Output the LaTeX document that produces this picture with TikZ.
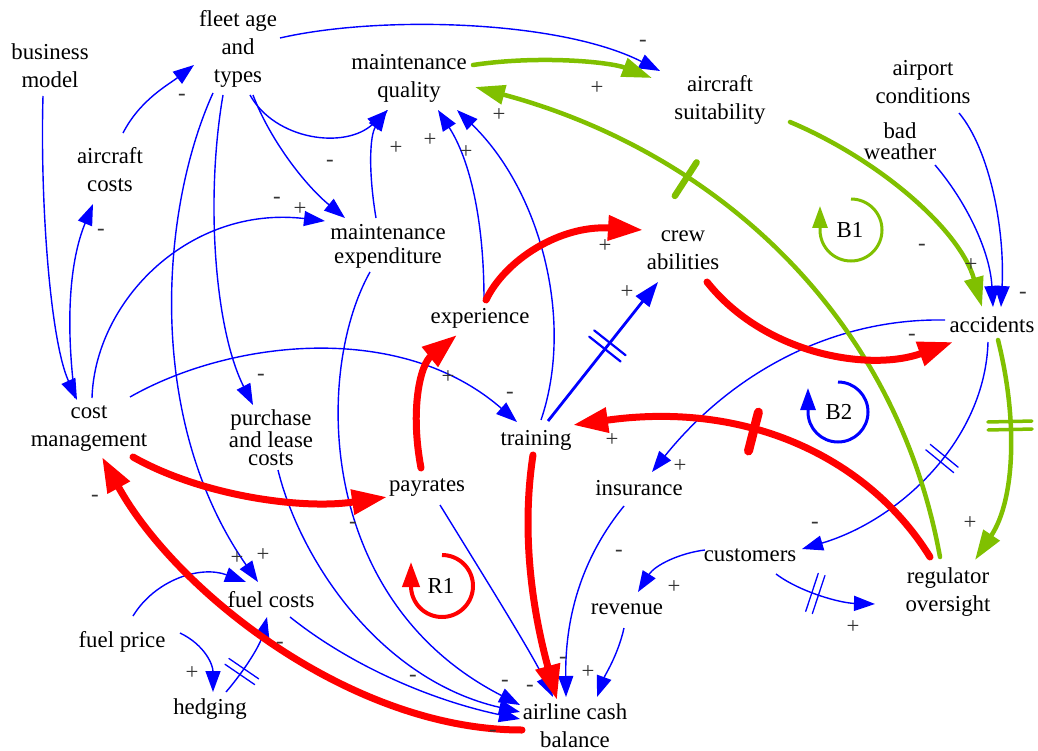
\documentclass[tikz,border=0pt]{standalone}
\usepackage{fontspec}
\setmainfont{Liberation Serif}
\usetikzlibrary{arrows.meta,calc,decorations.markings}

\definecolor{cldblue}{RGB}{0,0,255}
\definecolor{cldred}{RGB}{255,0,0}
\definecolor{cldgreen}{RGB}{128,192,0}

\begin{document}
\begin{tikzpicture}[x=1pt,y=-1pt,
  var/.style={align=center, inner sep=0pt, font=\fontsize{22.8}{28}\selectfont},
  sgn/.style={inner sep=0pt, text=black!80, font=\fontsize{22.8}{28}\selectfont},
  lnk/.style={draw=cldblue, line width=1.4pt, -{Triangle[length=21pt,width=15pt]}},
  strong/.style={draw=cldred, line width=7pt, line cap=round, -{Triangle[length=35pt,width=24pt]}},
  grn/.style={draw=cldgreen, line width=4.5pt, line cap=round, -{Triangle[length=30pt,width=19pt]}},
  delay/.style n args={5}{postaction={decorate, decoration={markings,
      mark=at position #1 with {\draw[-, draw=#2, line width=#3, line cap=round]
        (-#4,-#5) -- (-#4,#5) (#4,-#5) -- (#4,#5);}}}},
  loopB/.style={draw=cldblue, line width=3pt, -{Triangle[length=22pt,width=15pt]}},
  loopG/.style={draw=cldgreen, line width=3pt, -{Triangle[length=22pt,width=15pt]}},
  loopR/.style={draw=cldred, line width=4pt, -{Triangle[length=25pt,width=17pt]}}
]
\useasboundingbox (0,0) rectangle (1038,751);

% variables
\node[var] (bm) at (50,66) {business\\model};
\node[var] (fleet) at (238,49) {fleet age\\and\\types};
\node[var] (mq) at (409,78) {maintenance\\quality};
\node[var] (as) at (720,100) {aircraft\\suitability};
\node[var] (ac) at (923,82) {airport\\conditions};
\node[var, font=\fontsize{22.8}{21}\selectfont] (bw) at (900,141) {bad\\weather};
\node[var] (acost) at (110,170) {aircraft\\costs};
\node[var, font=\fontsize{22.8}{24}\selectfont] (me) at (388,246) {maintenance\\expenditure};
\node[var] (ca) at (683,250) {crew\\abilities};
\node[var] (exper) at (480,318) {experience};
\node[var] (acc) at (992,325) {accidents};
\node[var] (cm) at (89,429) {cost\\management};
\node[var, font=\fontsize{22.8}{18}\selectfont] (plc) at (271,438) {purchase\\and lease\\costs};
\node[var] (tr) at (536,440) {training};
\node[var] (pay) at (427,488) {payrates};
\node[var] (ins) at (639,488) {insurance};
\node[var] (cust) at (750,555) {customers};
\node[var] (ro) at (948,592) {regulator\\oversight};
\node[var] (rev) at (627,609) {revenue};
\node[var] (fc) at (271,600) {fuel costs};
\node[var] (fp) at (122,642) {fuel price};
\node[var] (hed) at (210,709) {hedging};
\node[var] (acb) at (575,726) {airline cash\\balance};

% loop markers
\node[var] (B1) at (850,230) {B1};
\node[var] (B2) at (839,412) {B2};
\node[var] (R1) at (441,586) {R1};
\draw[loopG] ($(B1)+(1,-31)$) arc[start angle=90, end angle=-180, radius=31pt] -- ++(0,-24);
\draw[loopB] ($(B2)+(-1,-30)$) arc[start angle=90, end angle=-180, radius=30pt] -- ++(0,-24);
\draw[loopR] ($(R1)+(1,-31)$) arc[start angle=90, end angle=-180, radius=31pt] -- ++(0,-24);

% thin causal links
\draw[lnk] ($(bm)+(-7,30)$) .. controls (40,200) and (50,340) .. ($(cm)+(-12,-29)$);
\draw[lnk] ($(cm)+(-14,-31)$) .. controls (65,320) and (70,260) .. ($(acost)+(-17,34)$);
\draw[lnk] ($(acost)+(13,-37)$) .. controls (140,100) and (168,85) .. ($(fleet)+(-44,16)$);
\draw[lnk] ($(fleet)+(42,-11)$) .. controls (380,15) and (560,20) .. ($(as)+(-60,-29)$);
\draw[lnk] ($(fleet)+(12,46)$) .. controls (275,140) and (345,150) .. ($(mq)+(-21,32)$);
\draw[lnk] ($(fleet)+(15,46)$) .. controls (270,140) and (305,185) .. ($(me)+(-43,-28)$);
\draw[lnk] ($(fleet)+(-15,46)$) .. controls (205,200) and (215,330) .. ($(plc)+(-18,-33)$);
\draw[lnk] ($(fleet)+(-25,44)$) .. controls (160,210) and (145,420) .. ($(fc)+(-13,-18)$);
\draw[lnk] ($(cm)+(3,-31)$) .. controls (95,300) and (190,205) .. ($(me)+(-63,-25)$);
\draw[lnk] ($(cm)+(41,-32)$) .. controls (230,340) and (400,320) .. ($(tr)+(-19,-18)$);
\draw[lnk] ($(me)+(-12,-28)$) .. controls (368,170) and (370,135) .. ($(mq)+(-22,32)$);
\draw[lnk] ($(exper)+(4,-18)$) .. controls (484,220) and (470,160) .. ($(mq)+(29,32)$);
\draw[lnk] ($(tr)+(5,-20)$) .. controls (575,320) and (540,190) .. ($(mq)+(48,32)$);
\draw[lnk] ($(bw)+(35,24)$) .. controls (965,200) and (990,250) .. ($(acc)+(1,-18)$);
\draw[lnk] ($(ac)+(36,31)$) .. controls (990,150) and (1005,230) .. ($(acc)+(9,-18)$);
\draw[lnk] ($(acc)+(-47,-5)$) .. controls (830,318) and (730,375) .. ($(ins)+(13,-16)$);
\draw[lnk, delay={0.43}{cldblue}{1.3pt}{3.5pt}{18pt}] ($(acc)+(-4,17)$) .. controls (985,440) and (900,520) .. ($(cust)+(52,-6)$);
\draw[lnk] ($(cust)+(-45,-5)$) .. controls (680,553) and (655,565) .. ($(rev)+(11,-17)$);
\draw[lnk, delay={0.42}{cldblue}{1.3pt}{3.5pt}{20pt}] ($(cust)+(26,19)$) .. controls (800,592) and (840,603) .. ($(ro)+(-73,12)$);
\draw[lnk] ($(ins)+(-15,18)$) .. controls (580,560) and (565,620) .. ($(acb)+(-9,-29)$);
\draw[lnk] ($(rev)+(-3,19)$) .. controls (618,655) and (605,675) .. ($(acb)+(22,-29)$);
\draw[lnk] ($(pay)+(13,17)$) .. controls (480,570) and (530,650) .. ($(acb)+(-22,-29)$);
\draw[lnk] ($(me)+(-18,26)$) .. controls (315,370) and (315,600) .. ($(acb)+(-55,-21)$);
\draw[lnk] ($(plc)+(7,32)$) .. controls (300,560) and (380,680) .. ($(acb)+(-55,-14)$);
\draw[lnk] ($(fc)+(19,17)$) .. controls (350,665) and (430,700) .. ($(acb)+(-55,-7)$);
\draw[lnk] ($(fp)+(11,-26)$) .. controls (155,580) and (200,565) .. ($(fc)+(-25,-18)$);
\draw[lnk] ($(fp)+(58,-9)$) .. controls (205,645) and (213,665) .. ($(hed)+(3,-17)$);
\draw[lnk, delay={0.3}{cldblue}{1.3pt}{3.5pt}{18pt}] ($(hed)+(16,-17)$) .. controls (245,670) and (260,645) .. ($(fc)+(-4,17)$);
\draw[lnk, line width=2.8pt, -{Triangle[length=25pt,width=17pt]}, delay={0.54}{cldblue}{2.2pt}{4pt}{20pt}]
  ($(tr)+(12,-19)$) -- ($(ca)+(-25,32)$);

% green links
\draw[grn] ($(mq)+(64,-13)$) .. controls (540,55) and (610,62) .. ($(as)+(-68,-22)$);
\draw[grn, delay={0.67}{cldgreen}{6.5pt}{0pt}{20pt}] ($(ro)+(-8,-35)$) .. controls (895,310) and (710,150) .. ($(mq)+(66,9)$);
\draw[grn] ($(as)+(70,22)$) .. controls (880,160) and (960,230) .. ($(acc)+(-10,-18)$);
\draw[grn, delay={0.38}{cldgreen}{3.5pt}{4pt}{22pt}] ($(acc)+(6,15)$) .. controls (1018,420) and (1015,500) .. ($(ro)+(27,-32)$);

% red links
\draw[strong] ($(tr)+(-3,15)$) .. controls (520,540) and (535,620) .. ($(acb)+(-18,-26)$);
\draw[strong] ($(acb)+(-53,4)$) .. controls (350,730) and (175,590) .. ($(cm)+(13,28)$);
\draw[strong] ($(cm)+(44,28)$) .. controls (200,495) and (300,510) .. ($(pay)+(-40,9)$);
\draw[strong] ($(pay)+(-6,-20)$) .. controls (410,410) and (420,365) .. ($(exper)+(-23,17)$);
\draw[strong] ($(exper)+(6,-18)$) .. controls (505,260) and (560,225) .. ($(ca)+(-40,-20)$);
\draw[strong] ($(ca)+(24,32)$) .. controls (765,355) and (870,372) .. ($(acc)+(-39,17)$);
\draw[strong, delay={0.55}{cldred}{9pt}{0pt}{20pt}] ($(ro)+(-18,-35)$) .. controls (870,460) and (750,400) .. ($(tr)+(37,-15)$);

% polarity signs
\foreach \x/\y/\s [count=\i] in {
  182/97/-, 101/232/-, 643/43/-, 597/88/+, 499/115/+, 396/148/+, 430/140/+,
  466/152/+, 330/163/-, 277/200/-, 300/209/+, 922/247/-, 971/265/+, 1023/295/-,
  605/246/+, 627/292/+, 912/337/-, 261/377/-, 448/377/+, 510/395/-, 612/440/+,
  680/466/+, 95/498/-, 353/525/-, 815/525/-, 970/523/+, 619/553/-, 674/587/+,
  853/627/+, 237/558/+, 263/555/+, 192/673/+, 280/645/-, 413/678/-, 505/683/-,
  530/688/-, 563/660/-, 493/733/-, 588/672/+}
  \node[sgn] (sg\i) at (\x,\y) {\s};
\end{tikzpicture}
\end{document}
